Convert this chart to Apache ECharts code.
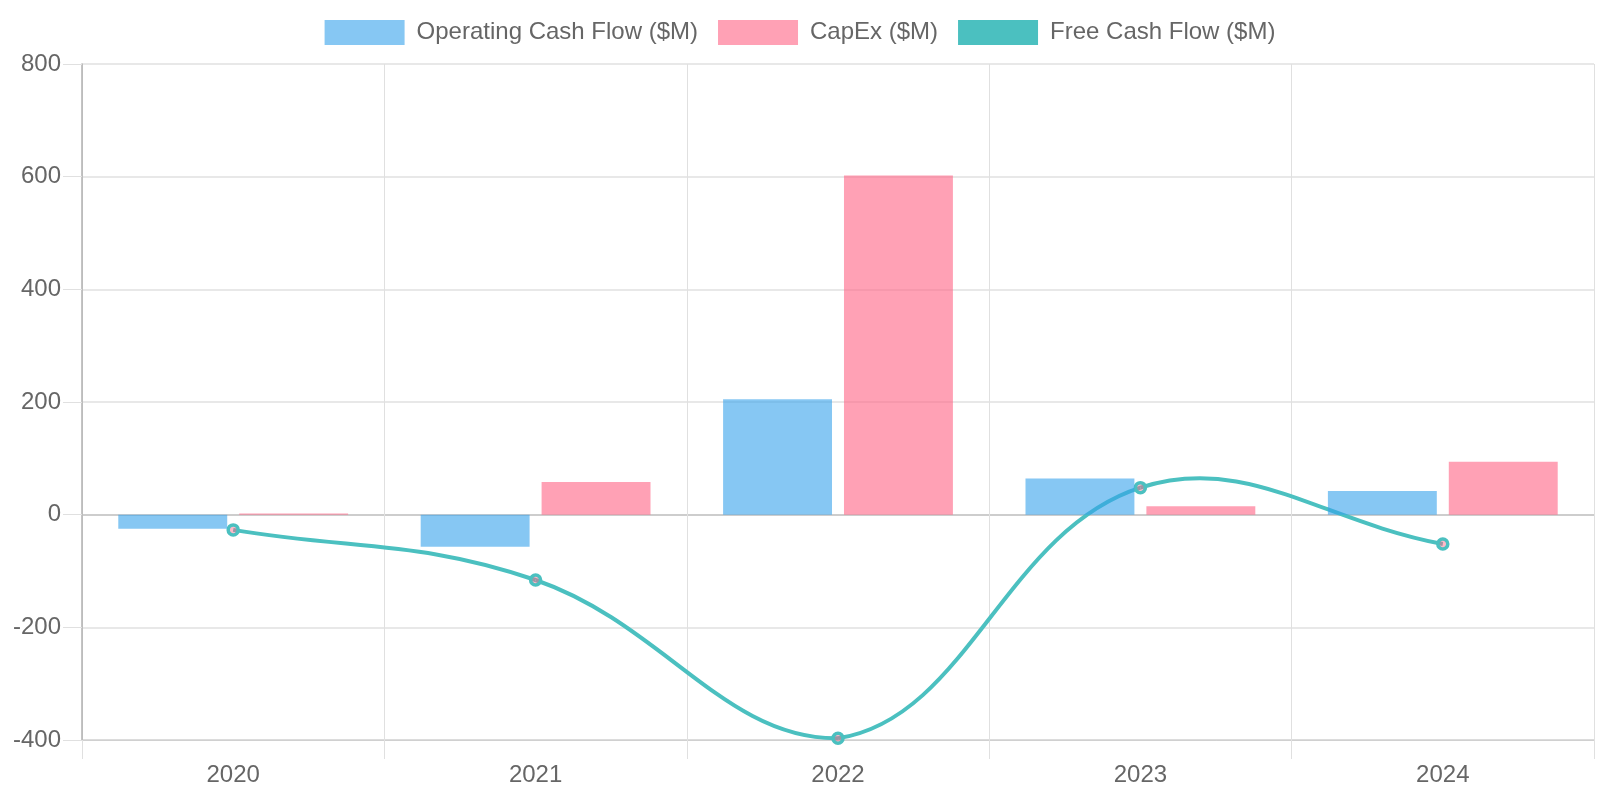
<!DOCTYPE html>
<html>
<head>
<meta charset="utf-8">
<script src="https://cdn.jsdelivr.net/npm/echarts@6/dist/echarts.min.js"></script>
<style>
html,body{margin:0;padding:0;background:#fff;}
#chart{width:1600px;height:800px;}
</style>
</head>
<body>
<div id="chart"></div>
<script>
const years = ['2020', '2021', '2022', '2023', '2024'];
const operatingCashFlow = [-25, -57, 205, 64, 42];
const capEx = [2, 58, 602, 15, 94];
const freeCashFlow = [-27, -116, -397, 48, -52];
const yTicks = { min: -400, max: 800, interval: 200 };

const font = 'Liberation Sans, Helvetica, Arial, sans-serif';
const TENSION = 0.4;

// Spline segment (tension 0.4) between consecutive points, computed in pixel space via the axes,
// with control points kept inside the plot area
function renderCurve(params, api) {
  const i = params.dataIndex;
  const n = freeCashFlow.length;
  if (i >= n - 1) return null;
  const clampIdx = k => Math.max(0, Math.min(n - 1, k));
  const P = k => api.coord([clampIdx(k), freeCashFlow[clampIdx(k)]]);
  const yTop = api.coord([0, yTicks.max])[1];
  const yBottom = api.coord([0, yTicks.min])[1];
  const cy = v => Math.max(yTop, Math.min(yBottom, v));
  function cps(k) {
    const prev = P(k - 1), cur = P(k), next = P(k + 1);
    const d01 = Math.hypot(cur[0] - prev[0], cur[1] - prev[1]);
    const d12 = Math.hypot(next[0] - cur[0], next[1] - cur[1]);
    let s01 = d01 / (d01 + d12), s12 = d12 / (d01 + d12);
    if (isNaN(s01)) s01 = 0;
    if (isNaN(s12)) s12 = 0;
    const fa = TENSION * s01, fb = TENSION * s12;
    return {
      prev: [cur[0] - fa * (next[0] - prev[0]), cy(cur[1] - fa * (next[1] - prev[1]))],
      next: [cur[0] + fb * (next[0] - prev[0]), cy(cur[1] + fb * (next[1] - prev[1]))]
    };
  }
  const a = P(i), b = P(i + 1);
  const c1 = cps(i).next, c2 = cps(i + 1).prev;
  return {
    type: 'path',
    shape: {
      pathData: 'M' + a[0] + ' ' + a[1] + ' C' + c1[0] + ' ' + c1[1] + ' ' + c2[0] + ' ' + c2[1] + ' ' + b[0] + ' ' + b[1]
    },
    style: { fill: null, stroke: '#4bc0c0', lineWidth: 4 }
  };
}

const chart = echarts.init(document.getElementById('chart'), null, { renderer: 'canvas' });
chart.setOption({
  animation: false,
  backgroundColor: '#ffffff',
  textStyle: { fontFamily: font },
  legend: {
    top: 15,
    left: 'center',
    itemWidth: 80,
    itemHeight: 25,
    itemGap: 20,
    icon: 'rect',
    textStyle: { fontSize: 24, color: '#666666', fontFamily: font, padding: [0, 0, 0, 7] },
    data: [
      { name: 'Operating Cash Flow ($M)', itemStyle: { color: 'rgba(54,162,235,0.6)' } },
      { name: 'CapEx ($M)', itemStyle: { color: 'rgba(255,99,132,0.6)' } },
      { name: 'Free Cash Flow ($M)', itemStyle: { color: '#4bc0c0', borderWidth: 0 }, lineStyle: { width: 0 } }
    ]
  },
  grid: { left: 82, right: 6, top: 64, bottom: 60, containLabel: false },
  xAxis: {
    type: 'category',
    data: years,
    boundaryGap: true,
    axisLine: { show: true, onZero: false, lineStyle: { color: '#d0d0d0', width: 1 } },
    axisTick: { show: true, length: 19, lineStyle: { color: '#e0e0e0' } },
    splitLine: { show: true, lineStyle: { color: '#e0e0e0', width: 1 } },
    axisLabel: { fontSize: 24, color: '#666666', margin: 23, fontFamily: font }
  },
  yAxis: {
    type: 'value',
    min: yTicks.min,
    max: yTicks.max,
    interval: yTicks.interval,
    axisLine: { show: true, lineStyle: { color: '#b0b0b0', width: 1.5 } },
    axisTick: { show: true, length: 19, lineStyle: { color: '#e0e0e0' } },
    splitLine: { show: true, lineStyle: { color: ['#d0d0d0', '#e0e0e0', '#bdbdbd', '#e0e0e0', '#e0e0e0', '#e0e0e0', '#e0e0e0'], width: 1.5 } },
    axisLabel: { fontSize: 24, color: '#666666', margin: 21, fontFamily: font }
  },
  series: [
    {
      name: 'Operating Cash Flow ($M)',
      type: 'bar',
      data: operatingCashFlow,
      barGap: '11%',
      barCategoryGap: '24%',
      itemStyle: { color: 'rgba(54,162,235,0.6)' },
      z: 3
    },
    {
      name: 'CapEx ($M)',
      type: 'bar',
      data: capEx,
      barGap: '11%',
      barCategoryGap: '24%',
      itemStyle: { color: 'rgba(255,99,132,0.6)' },
      z: 3
    },
    {
      name: 'fcf-curve',
      type: 'custom',
      data: freeCashFlow.map((v, i) => [i, v]),
      renderItem: renderCurve,
      encode: { x: 0, y: 1 },
      silent: true,
      z: 2
    },
    {
      name: 'Free Cash Flow ($M)',
      type: 'line',
      data: freeCashFlow,
      symbol: 'circle',
      symbolSize: 10,
      showSymbol: true,
      lineStyle: { color: '#4bc0c0', width: 0, opacity: 0 },
      itemStyle: { color: 'rgba(255,99,132,0.45)', borderColor: '#4bc0c0', borderWidth: 3.5 },
      z: 2
    }
  ]
});
</script>
</body>
</html>
